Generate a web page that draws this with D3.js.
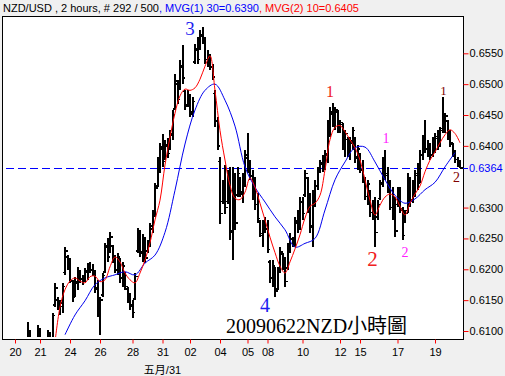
<!DOCTYPE html>
<html>
<head>
<meta charset="utf-8">
<script src="https://cdn.jsdelivr.net/npm/d3@7"></script>
<style>
  body { margin: 0; background: #f0f0f0; }
  svg { display: block; font-family: "Liberation Sans", Arial, sans-serif; }
</style>
</head>
<body>
<div id="graphContainer"></div>
<script>
// NZD/USD 2 hour bars (one entry per bar)
const highs = [
  0.6078, 0.6115, 0.6102, 0.6082, 0.608, 0.611, 0.6105, 0.6083, 0.6081, 0.6102,
  0.6099, 0.6129, 0.6178, 0.6155, 0.615, 0.6178, 0.6236, 0.6223, 0.6218, 0.6183,
  0.6188, 0.6204, 0.6199, 0.6191, 0.6202, 0.621, 0.6212, 0.6209, 0.6199, 0.6183,
  0.6155, 0.6194, 0.6243, 0.6251, 0.626, 0.624, 0.6223, 0.6227, 0.6218, 0.6212,
  0.6196, 0.6171, 0.6162, 0.615, 0.6194, 0.6267, 0.6264, 0.6257, 0.6252, 0.6247,
  0.6275, 0.6296, 0.634, 0.6382, 0.6405, 0.6419, 0.641, 0.6413, 0.6426, 0.6458,
  0.6516, 0.6507, 0.6539, 0.6563, 0.649, 0.649, 0.6484, 0.6479, 0.6565, 0.6576,
  0.6588, 0.6593, 0.6576, 0.6555, 0.6549, 0.6533, 0.649, 0.6447, 0.6382, 0.6345,
  0.6369, 0.6361, 0.6366, 0.6366, 0.6356, 0.6366, 0.635, 0.6356, 0.6393, 0.6421,
  0.6377, 0.6361, 0.635, 0.6324, 0.628, 0.628, 0.6285, 0.628, 0.6215, 0.6215,
  0.6204, 0.6204, 0.6236, 0.6227, 0.622, 0.6243, 0.6259, 0.6252, 0.6285, 0.6296,
  0.6317, 0.6317, 0.6361, 0.635, 0.6324, 0.6329, 0.6345, 0.6366, 0.6377, 0.6385,
  0.6393, 0.6442, 0.6463, 0.6469, 0.6463, 0.6458, 0.6442, 0.6437, 0.6426, 0.6414,
  0.6414, 0.6431, 0.6414, 0.6401, 0.6389, 0.6377, 0.635, 0.6345, 0.6329, 0.6312,
  0.6317, 0.6312, 0.6345, 0.6382, 0.6393, 0.6366, 0.6345, 0.6333, 0.6317, 0.6333,
  0.6333, 0.6301, 0.6296, 0.6356, 0.635, 0.6345, 0.6361, 0.6372, 0.6393, 0.6418,
  0.6442, 0.641, 0.6405, 0.6414, 0.6421, 0.6426, 0.6431, 0.6479, 0.6453, 0.6442,
  0.6426, 0.6405, 0.6393, 0.6382, 0.6377,
];
const lows = [
  0.6065, 0.608, 0.6075, 0.6068, 0.6066, 0.6078, 0.608, 0.607, 0.6068, 0.6078,
  0.608, 0.608, 0.6139, 0.6134, 0.6126, 0.6129, 0.6191, 0.6199, 0.6178, 0.6147,
  0.6155, 0.6167, 0.6178, 0.6175, 0.618, 0.6183, 0.6194, 0.6189, 0.6162, 0.6123,
  0.6094, 0.6155, 0.6194, 0.6212, 0.6227, 0.621, 0.6194, 0.6191, 0.6178, 0.6171,
  0.6167, 0.6145, 0.6134, 0.6121, 0.615, 0.6227, 0.622, 0.6212, 0.621, 0.6227,
  0.6236, 0.6259, 0.6285, 0.6333, 0.6356, 0.6366, 0.6377, 0.638, 0.6393, 0.641,
  0.6458, 0.6468, 0.649, 0.65, 0.6458, 0.6463, 0.6447, 0.6447, 0.6533, 0.6533,
  0.6555, 0.6565, 0.6533, 0.6528, 0.6523, 0.6507, 0.6431, 0.6393, 0.6273, 0.6306,
  0.629, 0.6306, 0.6248, 0.6215, 0.6264, 0.6317, 0.6317, 0.6307, 0.6333, 0.6356,
  0.6345, 0.6312, 0.6296, 0.6275, 0.6252, 0.6236, 0.6259, 0.6227, 0.6178, 0.6171,
  0.6155, 0.6167, 0.6194, 0.6199, 0.6171, 0.6199, 0.6227, 0.6236, 0.6236, 0.6259,
  0.6264, 0.628, 0.6317, 0.6291, 0.6259, 0.6236, 0.6301, 0.6329, 0.6356, 0.6358,
  0.6361, 0.6372, 0.6414, 0.6431, 0.6426, 0.6421, 0.6421, 0.6393, 0.6382, 0.6382,
  0.6377, 0.6393, 0.6372, 0.6361, 0.6356, 0.634, 0.6312, 0.6304, 0.6285, 0.628,
  0.6236, 0.628, 0.6312, 0.6333, 0.6345, 0.6324, 0.6296, 0.628, 0.6252, 0.6301,
  0.6291, 0.6248, 0.6275, 0.6291, 0.6301, 0.6307, 0.6317, 0.6329, 0.634, 0.6377,
  0.6389, 0.6382, 0.6377, 0.6382, 0.6389, 0.6393, 0.6398, 0.6421, 0.6421, 0.641,
  0.6398, 0.6382, 0.6372, 0.6366, 0.6364,
];
const opens = [
  0.607, 0.6085, 0.6098, 0.6078, 0.6072, 0.608, 0.6102, 0.608, 0.6074, 0.608,
  0.6096, 0.6086, 0.6142, 0.615, 0.6138, 0.614, 0.6195, 0.622, 0.6208, 0.618,
  0.6158, 0.6178, 0.6195, 0.6184, 0.6186, 0.6196, 0.6203, 0.62, 0.6193, 0.617,
  0.6138, 0.6158, 0.6196, 0.6236, 0.623, 0.6238, 0.6216, 0.6198, 0.6215, 0.6186,
  0.6192, 0.6168, 0.615, 0.6142, 0.6152, 0.623, 0.6258, 0.6226, 0.6248, 0.623,
  0.624, 0.6265, 0.629, 0.6335, 0.6372, 0.6398, 0.6378, 0.64, 0.6395, 0.6418,
  0.646, 0.65, 0.6492, 0.6528, 0.6488, 0.6466, 0.648, 0.6452, 0.6536, 0.6555,
  0.656, 0.6578, 0.6568, 0.654, 0.6545, 0.6528, 0.6485, 0.644, 0.6375, 0.631,
  0.6335, 0.631, 0.6345, 0.6262, 0.6345, 0.632, 0.6348, 0.6322, 0.634, 0.638,
  0.6368, 0.6352, 0.6322, 0.6305, 0.6278, 0.6255, 0.6268, 0.6266, 0.6212, 0.6186,
  0.62, 0.6168, 0.6198, 0.6225, 0.6205, 0.6202, 0.6236, 0.6248, 0.6242, 0.6275,
  0.6268, 0.6308, 0.632, 0.6348, 0.63, 0.6268, 0.6318, 0.6335, 0.636, 0.637,
  0.6378, 0.6385, 0.6432, 0.6452, 0.6442, 0.6455, 0.6432, 0.6435, 0.64, 0.641,
  0.639, 0.6405, 0.6412, 0.6382, 0.6385, 0.6362, 0.6345, 0.6318, 0.6325, 0.6292,
  0.6302, 0.6285, 0.6315, 0.6338, 0.6375, 0.6355, 0.6332, 0.63, 0.6292, 0.6305,
  0.6322, 0.6295, 0.628, 0.6295, 0.6345, 0.6312, 0.6335, 0.6352, 0.6342, 0.6385,
  0.641, 0.6395, 0.64, 0.6386, 0.6405, 0.6412, 0.6402, 0.6428, 0.644, 0.644,
  0.6415, 0.6402, 0.6388, 0.6378, 0.637,
];
const closes = [
  0.6075, 0.61, 0.608, 0.6072, 0.6077, 0.6104, 0.6083, 0.6074, 0.6079, 0.6097,
  0.6085, 0.6125, 0.617, 0.614, 0.6145, 0.6172, 0.623, 0.6205, 0.6182, 0.6155,
  0.618, 0.6198, 0.6185, 0.6188, 0.6197, 0.6205, 0.6199, 0.6192, 0.6168, 0.6135,
  0.615, 0.619, 0.6238, 0.622, 0.6252, 0.6215, 0.62, 0.622, 0.6185, 0.6205,
  0.6172, 0.615, 0.614, 0.613, 0.6188, 0.626, 0.6228, 0.625, 0.6218, 0.6242,
  0.627, 0.629, 0.6332, 0.6375, 0.6395, 0.6375, 0.6402, 0.6388, 0.642, 0.645,
  0.6505, 0.6475, 0.653, 0.651, 0.6465, 0.6482, 0.6455, 0.6472, 0.6558, 0.654,
  0.658, 0.657, 0.654, 0.6548, 0.6528, 0.6512, 0.644, 0.64, 0.629, 0.6338,
  0.63, 0.635, 0.626, 0.635, 0.6275, 0.6355, 0.6325, 0.6345, 0.6385, 0.6365,
  0.635, 0.632, 0.6305, 0.6282, 0.6258, 0.627, 0.6265, 0.6232, 0.6185, 0.6205,
  0.6165, 0.6195, 0.6228, 0.6205, 0.618, 0.6238, 0.625, 0.624, 0.6278, 0.6265,
  0.631, 0.629, 0.6355, 0.63, 0.627, 0.632, 0.6335, 0.636, 0.6372, 0.638,
  0.6388, 0.6435, 0.6455, 0.644, 0.6458, 0.643, 0.6438, 0.64, 0.642, 0.639,
  0.6408, 0.6425, 0.638, 0.6395, 0.636, 0.6345, 0.6318, 0.6338, 0.6292, 0.6305,
  0.626, 0.6305, 0.634, 0.6375, 0.6352, 0.633, 0.63, 0.629, 0.6262, 0.6325,
  0.6298, 0.6255, 0.629, 0.6348, 0.631, 0.6335, 0.6355, 0.634, 0.6385, 0.641,
  0.6395, 0.6402, 0.6385, 0.6408, 0.6415, 0.64, 0.6425, 0.644, 0.6448, 0.6415,
  0.6405, 0.6388, 0.6378, 0.637, 0.6364,
];

// moving averages as drawn on the chart, sampled every few bars
const ma10Start = 12; // bar index of first sample
const ma10Step = 2;
const ma10 = [
  0.6082, 0.6139, 0.6167, 0.6181, 0.6186, 0.6181, 0.6178, 0.6188, 0.6189, 0.618,
  0.6183, 0.6204, 0.622, 0.6212, 0.6194, 0.6183, 0.6178, 0.6194, 0.6215, 0.6243,
  0.628, 0.6312, 0.6369, 0.6414, 0.6453, 0.6481, 0.6492, 0.649, 0.6494, 0.6508,
  0.6529, 0.6546, 0.649, 0.6425, 0.6377, 0.6336, 0.6315, 0.6313, 0.6325, 0.6348,
  0.6333, 0.6307, 0.628, 0.6252, 0.6227, 0.6205, 0.6194, 0.6212, 0.6233, 0.6256,
  0.6283, 0.6302, 0.6307, 0.632, 0.6361, 0.641, 0.643, 0.6433, 0.6423, 0.641,
  0.6397, 0.6377, 0.6345, 0.6312, 0.6288, 0.6304, 0.6317, 0.6322, 0.6317, 0.6302,
  0.6288, 0.6307, 0.6322, 0.6335, 0.6358, 0.6377, 0.639, 0.6405, 0.6418, 0.6426,
  0.642, 0.6405,
];
const ma30Start = 16;
const ma30Step = 4;
const ma30 = [
  0.6094, 0.6126, 0.6149, 0.6175, 0.6186, 0.6191, 0.6196, 0.6191, 0.621, 0.6223,
  0.626, 0.6328, 0.6403, 0.6458, 0.649, 0.65, 0.6474, 0.6432, 0.6366, 0.6333,
  0.6309, 0.6285, 0.6264, 0.6236, 0.6242, 0.625, 0.6296, 0.6345, 0.6374, 0.6397,
  0.6398, 0.6374, 0.6345, 0.632, 0.6307, 0.6314, 0.6329, 0.6341, 0.6366, 0.6389,
];

// day labels on the time axis and the bar they sit on
const dayTickIndex = [-4, 6, 18, 30, 43, 55, 66, 78, 89, 97, 111, 126, 134, 149, 164];
const dayTickLabel = ["20", "21", "24", "26", "28", "31", "02", "04", "05", "08", "10", "12", "15", "17", "19"];
const priceTicks = [0.655, 0.65, 0.645, 0.64, 0.63, 0.625, 0.62, 0.615, 0.61];
const lastPrice = 0.6364;

// hand written wave counts: bar index, price at baseline
const waveText = ["3", "4", "1", "2", "1", "2", "1", "2"];
const waveIndex = [66, 96, 122, 139, 144.4, 152, 167.4, 172.6];
const wavePrice = [0.658, 0.6131, 0.6479, 0.6206, 0.6405, 0.622, 0.6482, 0.6341];
const waveColor = ["#1c1cf0", "#1c1cf0", "#f02020", "#f02020", "#ff20ff", "#ff20ff", "#800000", "#800000"];
const waveSize = [19, 20, 16, 21, 14, 14, 13, 14];

const headerParts = [
  { text: "NZD/USD , 2 hours, # 292 / 500", color: "#000" },
  { text: ", MVG(1) 30=0.6390", color: "#0000ff" },
  { text: ", MVG(2) 10=0.6405", color: "#ff0000" },
];

const drawChart = () => {
  const width = 505,
    height = 376;
  const plot = { left: 3, right: 463, top: 17, bottom: 339.5 };

  const svg = d3
    .select("#graphContainer")
    .append("svg")
    .attr("width", width)
    .attr("height", height);

  svg.append("rect").attr("width", width).attr("height", height).attr("fill", "#f0f0f0");

  // header line
  const header = svg
    .append("text")
    .attr("x", 3)
    .attr("y", 12)
    .style("font-size", "11px");
  headerParts.forEach((p) => header.append("tspan").attr("fill", p.color).text(p.text));

  // plot frame
  svg
    .append("rect")
    .attr("x", plot.left - 0.5)
    .attr("y", plot.top - 0.5)
    .attr("width", plot.right - plot.left + 1)
    .attr("height", plot.bottom - plot.top + 0.5)
    .attr("fill", "white")
    .attr("stroke", "black");

  svg
    .append("clipPath")
    .attr("id", "plotClip")
    .append("rect")
    .attr("x", plot.left)
    .attr("y", plot.top)
    .attr("width", plot.right - plot.left)
    .attr("height", 320);

  const x = d3.scaleLinear().domain([-8.8, 175.2]).range([plot.left, plot.right]);
  const y = d3.scaleLinear().domain([0.61, 0.655]).range([331, 53.3]);

  // time axis: red ticks under the frame
  svg
    .append("g")
    .attr("transform", `translate(0,${plot.bottom})`)
    .call(
      d3
        .axisBottom(x)
        .tickValues(dayTickIndex)
        .tickFormat((d, i) => dayTickLabel[i])
        .tickSizeInner(4)
        .tickSizeOuter(0)
        .tickPadding(5)
    )
    .call((g) => g.select(".domain").remove())
    .call((g) => g.selectAll(".tick line").attr("stroke", "#ff0000"))
    .call((g) =>
      g.selectAll(".tick text").attr("fill", "black").style("font-size", "11px").style("font-family", null)
    );

  svg
    .append("text")
    .attr("x", x(55))
    .attr("y", 374)
    .attr("text-anchor", "middle")
    .style("font-size", "11px")
    .style("font-family", '"Liberation Sans", "Noto Sans CJK TC", sans-serif')
    .text("五月/31");

  // price axis on the right
  svg
    .append("g")
    .attr("transform", `translate(${plot.right + 0.5},0)`)
    .call(d3.axisRight(y).tickValues(priceTicks).tickFormat(d3.format(".4f")).tickSizeInner(5).tickSizeOuter(0).tickPadding(1))
    .call((g) => g.select(".domain").remove())
    .call((g) => g.selectAll(".tick line").attr("stroke", "#ff0000"))
    .call((g) =>
      g.selectAll(".tick text").attr("fill", "black").style("font-size", "11px").style("font-family", null)
    );

  // dashed line at the last price
  svg
    .append("line")
    .attr("x1", plot.left + 3)
    .attr("x2", plot.right + 5)
    .attr("y1", Math.round(y(lastPrice)) + 0.5)
    .attr("y2", Math.round(y(lastPrice)) + 0.5)
    .attr("stroke", "#0000ff")
    .attr("stroke-width", 1.2)
    .attr("stroke-dasharray", "8,4");
  svg
    .append("text")
    .attr("x", plot.right + 6)
    .attr("y", y(lastPrice))
    .attr("dy", "0.35em")
    .attr("fill", "#0000ff")
    .style("font-size", "11px")
    .text(d3.format(".4f")(lastPrice));

  const inner = svg.append("g").attr("clip-path", "url(#plotClip)");

  // OHLC bars
  const bars = inner
    .append("g")
    .attr("stroke", "black")
    .attr("shape-rendering", "crispEdges")
    .selectAll("g")
    .data(d3.range(highs.length))
    .join("g");

  bars
    .append("line")
    .attr("x1", (i) => x(i))
    .attr("x2", (i) => x(i))
    .attr("y1", (i) => y(highs[i]))
    .attr("y2", (i) => y(lows[i]))
    .attr("stroke-width", 2);
  bars
    .append("line")
    .attr("x1", (i) => x(i) - 2)
    .attr("x2", (i) => x(i))
    .attr("y1", (i) => y(opens[i]))
    .attr("y2", (i) => y(opens[i]))
    .attr("stroke-width", 1.5);
  bars
    .append("line")
    .attr("x1", (i) => x(i))
    .attr("x2", (i) => x(i) + 2.5)
    .attr("y1", (i) => y(closes[i]))
    .attr("y2", (i) => y(closes[i]))
    .attr("stroke-width", 1.5);

  // moving averages
  const maLine = (start, step) =>
    d3
      .line()
      .x((d, i) => x(start + i * step))
      .y((d) => y(d))
      .curve(d3.curveCatmullRom);

  inner
    .append("path")
    .attr("fill", "none")
    .attr("stroke", "#0000ee")
    .attr("stroke-width", 1)
    .attr("d", maLine(ma30Start, ma30Step)(ma30));
  inner
    .append("path")
    .attr("fill", "none")
    .attr("stroke", "#ff0000")
    .attr("stroke-width", 1)
    .attr("d", maLine(ma10Start, ma10Step)(ma10));

  // wave counts
  svg
    .append("g")
    .selectAll("text")
    .data(waveText)
    .join("text")
    .attr("x", (d, i) => x(waveIndex[i]))
    .attr("y", (d, i) => y(wavePrice[i]))
    .attr("text-anchor", "middle")
    .attr("fill", (d, i) => waveColor[i])
    .style("font-family", '"Liberation Serif", "DejaVu Serif", serif')
    .style("font-size", (d, i) => waveSize[i] + "px")
    .text((d) => d);

  // caption
  svg
    .append("text")
    .attr("x", 226)
    .attr("y", 333)
    .style("font-family", '"Liberation Serif", "Noto Sans CJK TC", serif')
    .style("font-size", "20px")
    .attr("fill", "black")
    .text("20090622NZD小時圖");
};

window.addEventListener("DOMContentLoaded", () => {
  drawChart();
});
</script>
</body>
</html>
